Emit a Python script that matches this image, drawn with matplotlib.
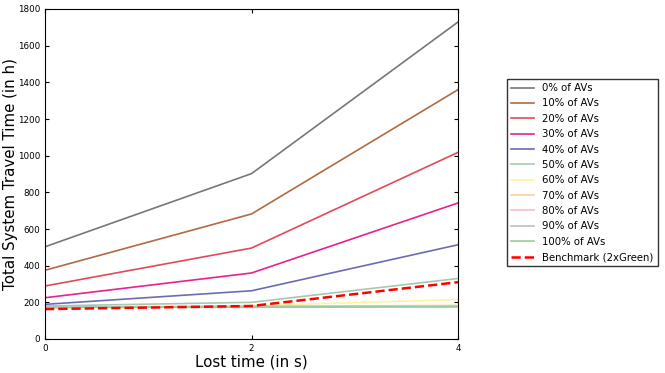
import matplotlib
matplotlib.use("Agg")
import matplotlib.pyplot as plt

lost_time = [0, 2, 4]

labels = ['0% of AVs', '10% of AVs', '20% of AVs', '30% of AVs', '40% of AVs',
          '50% of AVs', '60% of AVs', '70% of AVs', '80% of AVs', '90% of AVs',
          '100% of AVs']

travel_time = [
    [503, 902, 1729],
    [375, 682, 1360],
    [289, 496, 1018],
    [225, 360, 742],
    [189, 263, 514],
    [180, 200, 330],
    [172, 182, 215],
    [172, 178, 183],
    [172, 177, 180],
    [175, 177, 178],
    [172, 173, 175],
]

benchmark = [163, 180, 310]

colors = ['#777777', '#b36a42', '#e04a5a', '#e8228e', '#6c6cb6', '#a8c8ac',
          '#fff3a0', '#fdd0a0', '#f0c0c6', '#b8c0c8', '#94d294']

fig = plt.figure(figsize=(6.65, 3.73), dpi=100)
ax = fig.add_axes([45 / 665, 1 - 339 / 373, 413 / 665, 330 / 373])

for vals, lab, c in zip(travel_time, labels, colors):
    ax.plot(lost_time, vals, color=c, label=lab, linewidth=1.2)
ax.plot(lost_time, benchmark, 'r--', label='Benchmark (2xGreen)', linewidth=1.8)

ax.set_xlim(0, 4)
ax.set_ylim(0, 1800)
ax.set_xticks([0, 2, 4])
ax.set_yticks(range(0, 1801, 200))
ax.tick_params(direction='in', top=True, right=True, labelsize=6.3, length=3)
ax.set_xlabel('Lost time (in s)', fontsize=10.8, labelpad=1)
ax.set_ylabel('Total System Travel Time (in h)', fontsize=10.8)
ax.yaxis.set_label_coords(-0.066, 0.5)

leg = fig.legend(loc='upper left', bbox_to_anchor=(507 / 665, 1 - 79 / 373),
                 fontsize=7.3, frameon=True, fancybox=False, borderaxespad=0,
                 handlelength=2.3, labelspacing=0.53)
leg.get_frame().set_edgecolor('black')

fig.savefig('out.png', dpi=100)
